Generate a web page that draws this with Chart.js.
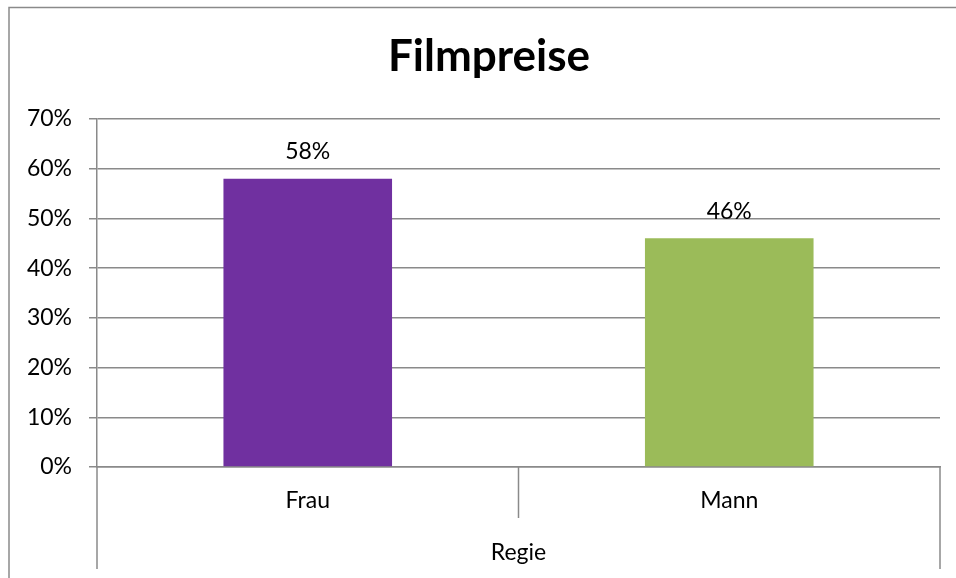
<!DOCTYPE html>
<html>
<head>
<meta charset="utf-8">
<script src="https://cdn.jsdelivr.net/npm/chart.js@4/dist/chart.umd.min.js"></script>
<style>
html,body{margin:0;padding:0;background:#fff;}
#wrap{width:956px;height:578px;position:relative;}
</style>
</head>
<body>
<div id="wrap"><canvas id="c" width="956" height="578"></canvas></div>
<script>
const chartTitle = "Filmpreise";
const categories = ["Frau", "Mann"];
const groupLabel = "Regie";
const values = [58, 46];
const barColors = ["#7030A0", "#9BBB59"];
const yTicks = [0, 10, 20, 30, 40, 50, 60, 70];

const FONT = "Lato, 'Open Sans', sans-serif";
const LINE = "#8a8a8a";
const FS = 23;

const decorPlugin = {
  id: "decor",
  beforeDraw(chart) {
    const ctx = chart.ctx;
    ctx.save();
    ctx.strokeStyle = LINE;
    ctx.lineWidth = 1.5;
    ctx.beginPath();
    ctx.moveTo(9, 600);
    ctx.lineTo(9, 7.5);
    ctx.lineTo(1000, 7.5);
    ctx.stroke();
    ctx.fillStyle = "#000";
    ctx.font = "bold 44px " + FONT;
    ctx.textAlign = "center";
    ctx.textBaseline = "middle";
    ctx.fillText(chartTitle, 489, 57);
    ctx.restore();
  },
  afterDraw(chart) {
    const ctx = chart.ctx;
    const x = chart.scales.x;
    const area = chart.chartArea;
    ctx.save();
    ctx.strokeStyle = LINE;
    ctx.lineWidth = 1.5;
    const bottomFull = 569;
    const mids = [];
    for (let i = 0; i < categories.length - 1; i++) {
      mids.push((x.getPixelForValue(i) + x.getPixelForValue(i + 1)) / 2);
    }
    ctx.beginPath();
    ctx.moveTo(area.left, area.bottom);
    ctx.lineTo(area.left, bottomFull);
    ctx.moveTo(area.right, area.bottom);
    ctx.lineTo(area.right, bottomFull);
    mids.forEach(m => { ctx.moveTo(m, area.bottom); ctx.lineTo(m, 518); });
    ctx.stroke();
    ctx.restore();
  },
  afterDatasetsDraw(chart) {
    const ctx = chart.ctx;
    const meta = chart.getDatasetMeta(0);
    ctx.save();
    ctx.fillStyle = "#000";
    ctx.font = FS + "px " + FONT;
    ctx.textAlign = "center";
    ctx.textBaseline = "middle";
    meta.data.forEach((bar, i) => {
      ctx.fillText(values[i] + "%", bar.x, bar.y - 27);
    });
    ctx.restore();
  }
};

new Chart(document.getElementById("c"), {
  type: "bar",
  data: {
    labels: categories,
    datasets: [{
      data: values,
      backgroundColor: barColors,
      borderWidth: 0,
      categoryPercentage: 1.0,
      barPercentage: 0.4
    }]
  },
  options: {
    responsive: false,
    animation: false,
    devicePixelRatio: 1,
    layout: { padding: { top: 119, right: 16, bottom: 12, left: 0 } },
    plugins: {
      legend: { display: false },
      title: { display: false },
      tooltip: { enabled: false }
    },
    scales: {
      x: {
        grid: { display: true, drawOnChartArea: false, drawTicks: false, color: "rgba(0,0,0,0)" },
        border: { display: true, color: LINE, width: 1.5 },
        ticks: { color: "#000", font: { family: FONT, size: FS }, padding: 20 },
        title: { display: true, text: groupLabel, color: "#000", font: { family: FONT, size: FS }, padding: { top: 0, bottom: 0 } },
        afterFit(scale) { scale.height = 578 - 467 - 12; }
      },
      y: {
        min: 0,
        max: 70,
        afterBuildTicks(scale) { scale.ticks = yTicks.map(v => ({ value: v })); },
        grid: { color: LINE, lineWidth: 1.5, tickLength: 8, drawTicks: true },
        border: { display: true, color: LINE, width: 1.5 },
        ticks: {
          color: "#000",
          font: { family: FONT, size: FS },
          padding: 17,
          callback: v => v + "%"
        },
        afterFit(scale) { scale.width = 97; }
      }
    }
  },
  plugins: [decorPlugin]
});
</script>
</body>
</html>
